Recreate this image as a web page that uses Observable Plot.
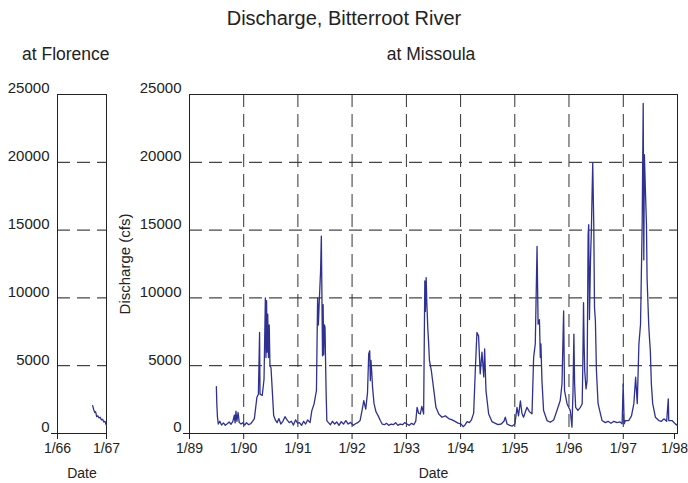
<!DOCTYPE html>
<html><head><meta charset="utf-8">
<script src="https://cdn.jsdelivr.net/npm/d3@7"></script>
<script src="https://cdn.jsdelivr.net/npm/@observablehq/plot@0.6"></script>
<style>
body{margin:0;background:#fff;font-family:"Liberation Sans",Arial,sans-serif;color:#222}
#wrap{width:688px;height:483px;position:relative;overflow:hidden;background:#fff}
#title{height:40px;box-sizing:border-box;padding-top:8px;font-size:20px;line-height:20px;text-align:center}
#subs{height:30px;position:relative;font-size:17.5px;line-height:18px}
#subs span{position:absolute;top:5px;white-space:nowrap}
#plots{display:flex;height:413px}
#plots svg{flex:none;overflow:visible}
</style></head><body>
<div id="wrap">
<div id="title">Discharge, Bitterroot River</div>
<div id="subs"><span style="left:22px">at Florence</span><span style="left:431px;transform:translateX(-50%)">at Missoula</span></div>
<div id="plots"></div>
</div>
<script>
// ---- data ----
const florenceDates = ["1966-09-20","1966-09-28","1966-10-06","1966-10-12","1966-10-20","1966-10-28","1966-11-06","1966-11-15","1966-11-24","1966-12-03","1966-12-12","1966-12-20","1966-12-31"];
const florenceCfs = [2050,1750,1550,1600,1250,1300,1150,1200,1000,1050,850,900,600];

const missoulaDates = [
"1989-07-01","1989-07-04","1989-07-08","1989-07-14","1989-07-24","1989-08-05","1989-08-18","1989-08-30","1989-09-12","1989-09-25","1989-10-08","1989-10-20","1989-10-30","1989-11-04","1989-11-10","1989-11-16","1989-11-24","1989-12-02","1989-12-14","1989-12-26",
"1990-01-08","1990-01-20","1990-02-03","1990-02-17","1990-03-02","1990-03-14","1990-03-31","1990-04-10","1990-04-18","1990-04-21","1990-05-06","1990-05-18","1990-05-27","1990-05-31","1990-06-04","1990-06-08","1990-06-12","1990-06-17","1990-06-22","1990-06-27","1990-07-04","1990-07-22","1990-08-02","1990-08-14","1990-08-26","1990-09-08","1990-09-22","1990-10-06","1990-10-20","1990-11-04","1990-11-18","1990-12-02","1990-12-16","1990-12-30",
"1991-01-12","1991-01-26","1991-02-09","1991-02-22","1991-03-08","1991-03-24","1991-04-05","1991-04-20","1991-05-06","1991-05-14","1991-05-19","1991-05-26","1991-06-03","1991-06-08","1991-06-12","1991-06-16","1991-06-20","1991-06-24","1991-06-29","1991-07-03","1991-07-06","1991-07-10","1991-07-15","1991-07-26","1991-08-08","1991-08-22","1991-09-06","1991-09-20","1991-10-05","1991-10-20","1991-11-04","1991-11-20","1991-12-06","1991-12-22",
"1992-01-08","1992-01-24","1992-02-08","1992-02-24","1992-03-08","1992-03-20","1992-04-02","1992-04-14","1992-04-22","1992-04-29","1992-05-03","1992-05-07","1992-05-12","1992-05-18","1992-05-28","1992-06-10","1992-06-25","1992-07-09","1992-07-22","1992-08-06","1992-08-20","1992-09-04","1992-09-20","1992-10-05","1992-10-20","1992-11-05","1992-11-20","1992-12-06","1992-12-20",
"1993-01-05","1993-01-20","1993-02-05","1993-02-20","1993-03-05","1993-03-14","1993-03-24","1993-04-05","1993-04-15","1993-04-27","1993-05-05","1993-05-09","1993-05-14","1993-05-19","1993-05-25","1993-05-31","1993-06-05","1993-06-18","1993-07-05","1993-07-19","1993-08-07","1993-08-29","1993-09-20","1993-10-13","1993-11-05","1993-11-27","1993-12-15",
"1994-01-05","1994-01-18","1994-02-01","1994-02-14","1994-03-01","1994-03-15","1994-03-30","1994-04-10","1994-04-21","1994-05-02","1994-05-13","1994-05-25","1994-06-06","1994-06-12","1994-06-21","1994-07-09","1994-07-31","1994-08-20","1994-09-10","1994-10-01","1994-10-20","1994-10-29","1994-11-10","1994-11-28","1994-12-15",
"1995-01-02","1995-01-16","1995-01-26","1995-02-08","1995-02-18","1995-03-01","1995-03-24","1995-04-10","1995-04-27","1995-05-08","1995-05-19","1995-05-31","1995-06-07","1995-06-16","1995-06-22","1995-06-26","1995-07-03","1995-07-14","1995-08-06","1995-08-28","1995-09-20","1995-10-12","1995-11-03","1995-11-15","1995-11-26","1995-12-02","1995-12-19","1995-12-30",
"1996-01-10","1996-01-21","1996-01-28","1996-02-03","1996-02-08","1996-02-15","1996-03-01","1996-03-18","1996-03-30","1996-04-03","1996-04-08","1996-04-12","1996-04-16","1996-04-25","1996-05-02","1996-05-09","1996-05-13","1996-05-18","1996-05-25","1996-05-31","1996-06-05","1996-06-09","1996-06-16","1996-06-21","1996-06-27","1996-07-04","1996-07-15","1996-07-31","1996-08-11","1996-09-01","1996-09-20","1996-10-10","1996-10-30","1996-11-20","1996-12-10","1996-12-24","1996-12-31",
"1997-01-07","1997-01-15","1997-02-07","1997-02-25","1997-03-13","1997-03-25","1997-04-05","1997-04-16","1997-04-27","1997-05-08","1997-05-15","1997-05-19","1997-05-23","1997-05-30","1997-06-06","1997-06-10","1997-06-21","1997-06-26","1997-07-02","1997-07-09","1997-07-18","1997-08-05","1997-08-28","1997-09-15","1997-10-01","1997-10-20","1997-10-31","1997-11-03","1997-11-25","1997-12-17","1997-12-31"];
const missoulaCfs = [
3450,2200,1250,700,900,620,780,600,720,850,680,900,1350,780,1650,900,1550,820,700,800,
620,800,650,720,900,1100,2670,2900,7450,2900,2800,4000,10000,5600,9800,6000,8800,5600,8000,5000,4850,1320,1000,800,1100,700,900,1240,1000,800,900,620,1000,760,
800,600,900,700,1000,800,1690,2180,3160,10000,8000,10000,12000,14550,10000,5730,9500,5800,8000,7810,5650,3160,955,800,650,900,700,850,600,880,700,950,700,820,
600,720,800,950,1690,2430,1800,3000,5860,6100,3900,5400,4630,3400,2200,1600,1300,955,700,650,760,600,700,650,800,600,700,650,800,
700,600,750,650,900,1930,1500,1440,2000,1440,11250,9000,11500,9500,7800,6590,5400,4630,3160,1930,1440,1200,1300,1100,1000,880,770,
700,500,650,880,800,1000,1500,4630,7450,7200,4400,6000,4170,6230,3160,1440,880,770,650,700,900,1200,700,600,550,
700,1930,1300,2400,1500,1200,1930,1600,1450,5610,6600,13800,8060,8400,5600,6600,3900,1690,955,830,1000,1690,2430,3650,9040,3160,2200,1930,
1690,470,3000,7330,3650,1930,1700,1930,2200,4870,9650,6600,4630,3290,3900,14680,15400,8400,12800,15000,17860,19950,15400,9280,8300,4630,2200,1440,955,800,900,750,900,800,850,710,3650,
710,955,955,1300,2200,4150,2200,6590,8060,15400,24350,12800,20560,17860,15400,11490,8060,7080,6100,3650,2200,1200,955,900,1080,900,2550,955,955,710,600];

const yTicks = [0, 5000, 10000, 15000, 20000, 25000];
const yGrid = [5000, 10000, 15000, 20000];
const florenceYears = [1966, 1967];
const missoulaYears = [1989, 1990, 1991, 1992, 1993, 1994, 1995, 1996, 1997, 1998];

// ---- build ----
const parse = d3.utcParse("%Y-%m-%d");
const florence = florenceDates.map((d, i) => ({date: parse(d), cfs: florenceCfs[i]}));
const missoula = missoulaDates.map((d, i) => ({date: parse(d), cfs: missoulaCfs[i]}));
const yr = y => new Date(Date.UTC(y, 0, 1));
const fmt = d => "1/" + String(d.getUTCFullYear()).slice(2);
const FONT = '"Liberation Sans", Arial, sans-serif';
const BLUE = "#2e3192";

function panel({width, marginLeft, marginRight, years, grid, data, yLabel, nudgeLast}) {
  const ticks = years.map(yr);
  const main = nudgeLast ? ticks.slice(0, -1) : ticks;
  return Plot.plot({
    width, height: 413, marginLeft, marginRight, marginTop: 24, marginBottom: 50,
    style: {fontFamily: FONT, fontSize: "15px", color: "#222", background: "transparent", overflow: "visible"},
    x: {type: "utc", domain: [ticks[0], ticks[ticks.length - 1]]},
    y: {domain: [0, 25000]},
    marks: [
      Plot.ruleY(yGrid, {stroke: "#1a1a1a", strokeDasharray: "13,7"}),
      grid ? Plot.ruleX(ticks.slice(1, -1), {stroke: "#333", strokeDasharray: "13,7"}) : null,
      Plot.frame({stroke: "#222"}),
      Plot.axisY(yTicks, {tickSize: 0, tickPadding: 8, dy: -6, fontSize: 15, tickFormat: d => String(d),
        label: yLabel, labelAnchor: "center", labelArrow: "none", labelOffset: 70}),
      Plot.axisY([0], {tickSize: 6, tickFormat: () => "", label: null}),
      Plot.axisX(main, {tickSize: 6, tickPadding: 4, fontSize: 14, tickFormat: fmt,
        label: "Date", labelAnchor: "center", labelArrow: "none", labelOffset: 44}),
      nudgeLast ? Plot.axisX(ticks.slice(-1), {tickSize: 6, tickPadding: 4, fontSize: 14, tickFormat: fmt, dx: -3, label: null}) : null,
      Plot.lineY(data, {x: "date", y: "cfs", stroke: BLUE, strokeWidth: 1.3})
    ]
  });
}

const host = document.getElementById("plots");
host.append(panel({width: 115, marginLeft: 57, marginRight: 9, years: florenceYears, grid: false, data: florence, yLabel: null, nudgeLast: false}));
host.append(panel({width: 573, marginLeft: 74, marginRight: 11, years: missoulaYears, grid: true, data: missoula, yLabel: "Discharge (cfs)", nudgeLast: true}));
</script>
</body></html>
